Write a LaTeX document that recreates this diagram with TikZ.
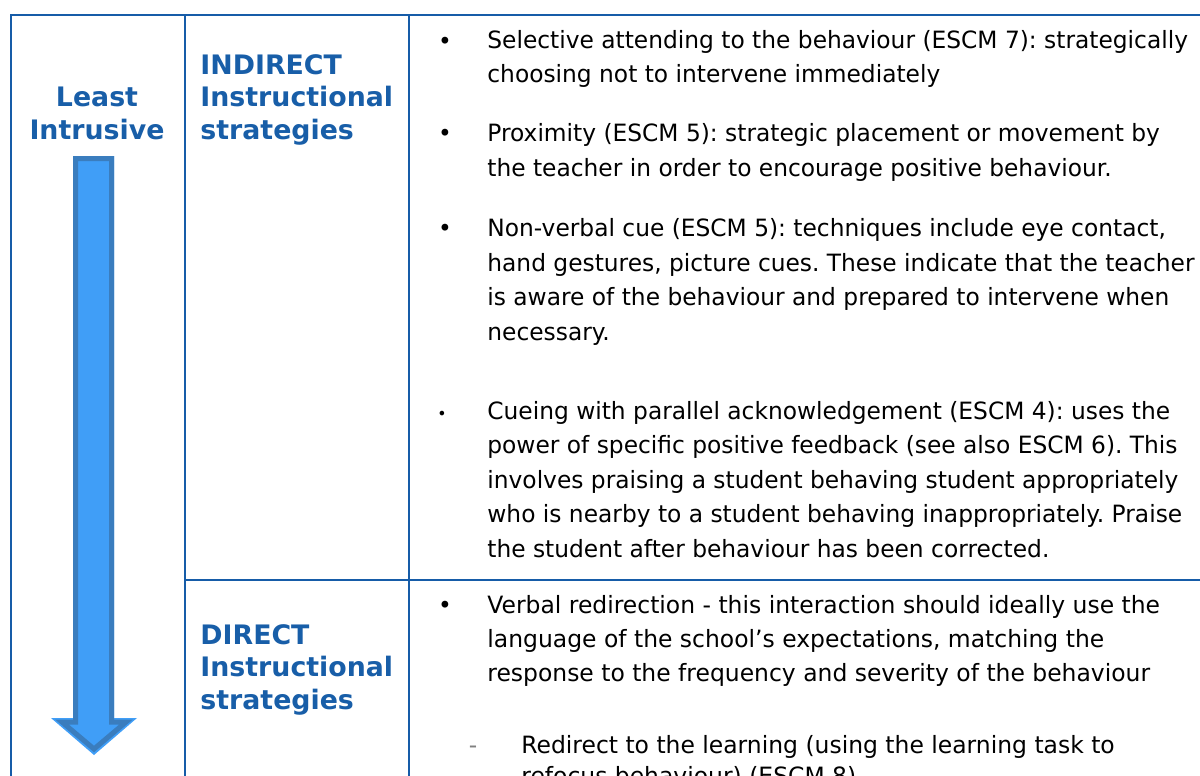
\documentclass[tikz,border=0pt]{standalone}
\usepackage{fontspec}
\usepackage{tikz}
\usetikzlibrary{positioning}
\frenchspacing
\newfontfamily\bodyfont[FakeStretch=0.98]{DejaVu Sans}
\newfontfamily\verbalfont[FakeStretch=0.985]{DejaVu Sans}
\newfontfamily\headfont{DejaVu Sans}
\definecolor{gridblue}{RGB}{22,92,168}
\definecolor{headblue}{RGB}{24,94,168}
\definecolor{arrowfill}{RGB}{64,158,247}
\definecolor{arrowline}{RGB}{58,125,190}
\tikzset{grid line/.style={draw=gridblue, line width=1pt},
	head/.style={font=\headfont\bfseries\fontsize{13.4}{16.25}\selectfont, text=headblue, align=left, anchor=base west, inner sep=0pt},
	item/.style={font=\bodyfont\fontsize{11.9}{17.25}\selectfont, align=left, anchor=base west, inner sep=0pt},
	bullet/.style={font=\bodyfont\fontsize{11.9}{17.25}\selectfont, anchor=base, inner sep=0pt}}

\begin{document}
\begin{tikzpicture}[x=0.5pt, y=-0.5pt]
	\useasboundingbox (0,0) rectangle (1200,776);
	\clip (0,0) rectangle (1200,776);
	% table rules
	\draw[grid line] (11,776) -- (11,15) -- (1200,15);
	\draw[grid line] (185,15) -- (185,776);
	\draw[grid line] (409,15) -- (409,776);
	\draw[grid line] (185,580) -- (1200,580);
	% down arrow
	\fill[arrowfill] (73,156) -- (114,156) -- (114,718) -- (137,718) -- (94,755) -- (51,718) -- (73,718) -- cycle;
	\draw[arrowline, line width=2.5pt, line join=miter] (75.5,158.5) -- (111.5,158.5) -- (111.5,722) -- (126,722) -- (94,749) -- (62,722) -- (75.5,722) -- cycle;
	% headings (base = last line)
	\node[head, anchor=base, align=center] (least) at (97,139) {Least\\Intrusive};
	\node[head] (indirect) at (200,139) {INDIRECT\\Instructional\\strategies};
	\node[head] (direct) at (200,709) {DIRECT\\Instructional\\strategies};
	% indirect strategies
	\node[item] (selective) at (487,83) {Selective attending to the behaviour (ESCM 7): strategically\\choosing not to intervene immediately};
	\node[item] (proximity) at (487,176) {Proximity (ESCM 5): strategic placement or movement by\\the teacher in order to encourage positive behaviour.};
	\node[item] (nonverbal) at (487,340) {Non-verbal cue (ESCM 5): techniques include eye contact,\\hand gestures, picture cues. These indicate that the teacher\\is aware of the behaviour and prepared to intervene when\\necessary.};
	\node[item] (cueing) at (487,557) {Cueing with parallel acknowledgement (ESCM 4): uses the\\power of specific positive feedback (see also ESCM 6). This\\involves praising a student behaving student appropriately\\who is nearby to a student behaving inappropriately. Praise\\the student after behaviour has been corrected.};
	\node[bullet] (b1) at (445,49) {•};
	\node[bullet] (b2) at (445,141) {•};
	\node[bullet] (b3) at (445,236) {•};
	\node[bullet, font=\bodyfont\fontsize{8}{8}\selectfont] (b4) at (442,419) {•};
	% direct strategies
	\node[item, font=\verbalfont\fontsize{11.9}{17}\selectfont] (verbal) at (487,681) {Verbal redirection - this interaction should ideally use the\\language of the school’s expectations, matching the\\response to the frequency and severity of the behaviour};
	\node[bullet] (b5) at (445,613) {•};
	\node[item, font=\verbalfont\fontsize{11.9}{15.5}\selectfont] (redirect) at (521,784) {Redirect to the learning (using the learning task to\\refocus behaviour) (ESCM 8)};
	\node[bullet, text=gray] (dash) at (473,753) {-};
\end{tikzpicture}
\end{document}
